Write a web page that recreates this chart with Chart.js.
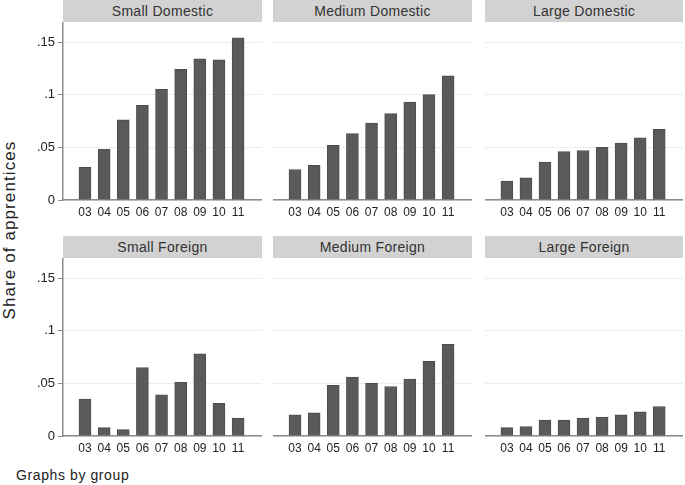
<!DOCTYPE html>
<html>
<head>
<meta charset="utf-8">
<script src="https://cdn.jsdelivr.net/npm/chart.js@4.4.1/dist/chart.umd.min.js"></script>
<style>
  html, body { margin: 0; padding: 0; background: #ffffff; }
  #wrap { position: relative; width: 685px; height: 485px; overflow: hidden; font-family: "Liberation Sans", Arial, sans-serif; }
  canvas { position: absolute; }
  .hdr { position: absolute; height: 22px; line-height: 22px; background: #d2d2d2; color: #333; text-align: center; font-size: 14px; letter-spacing: 0.3px; }
  #ytitle { position: absolute; left: 10px; top: 230px; transform: translate(-50%, -50%) rotate(-90deg); white-space: nowrap; font-size: 17px; letter-spacing: 1.1px; color: #222; }
  #note { position: absolute; left: 16px; top: 467px; font-size: 14px; letter-spacing: 0.6px; color: #222; white-space: nowrap; }
</style>
</head>
<body>
<div id="wrap">
  <div id="ytitle">Share of apprentices</div>
  <div id="note">Graphs by group</div>
</div>
<script>
// ---- data ----
const categories = ["03", "04", "05", "06", "07", "08", "09", "10", "11"];
const panelTitles = ["Small Domestic", "Medium Domestic", "Large Domestic", "Small Foreign", "Medium Foreign", "Large Foreign"];
const smallDomestic  = [0.031, 0.048, 0.076, 0.090, 0.105, 0.124, 0.134, 0.133, 0.154];
const mediumDomestic = [0.029, 0.033, 0.052, 0.063, 0.073, 0.082, 0.093, 0.100, 0.118];
const largeDomestic  = [0.018, 0.021, 0.036, 0.046, 0.047, 0.050, 0.054, 0.059, 0.067];
const smallForeign   = [0.035, 0.008, 0.006, 0.065, 0.039, 0.051, 0.078, 0.031, 0.017];
const mediumForeign  = [0.020, 0.022, 0.048, 0.056, 0.050, 0.047, 0.054, 0.071, 0.087];
const largeForeign   = [0.008, 0.009, 0.015, 0.015, 0.017, 0.018, 0.020, 0.023, 0.028];
const yTicks = [0, 0.05, 0.1, 0.15];
const yTickLabels = ["0", ".05", ".1", ".15"];

const series = [smallDomestic, mediumDomestic, largeDomestic, smallForeign, mediumForeign, largeForeign];

// ---- layout ----
const colLeft = [63, 273, 485];
const colWidth = [199, 199, 198];
const rowTop = [22, 258];
const plotH = 178;
const axisW = 45;
const xAxisH = 25;

const wrap = document.getElementById('wrap');

series.forEach((vals, k) => {
  const col = k % 3, row = Math.floor(k / 3);
  const first = col === 0;

  const hdr = document.createElement('div');
  hdr.className = 'hdr';
  hdr.style.left = colLeft[col] + 'px';
  hdr.style.width = colWidth[col] + 'px';
  hdr.style.top = (rowTop[row] - 22) + 'px';
  hdr.textContent = panelTitles[k];
  wrap.appendChild(hdr);

  const cv = document.createElement('canvas');
  const w = colWidth[col] + (first ? axisW : 0);
  const h = plotH + xAxisH;
  cv.width = w; cv.height = h;
  cv.style.width = w + 'px'; cv.style.height = h + 'px';
  cv.style.left = (colLeft[col] - (first ? axisW : 0)) + 'px';
  cv.style.top = rowTop[row] + 'px';
  wrap.appendChild(cv);

  new Chart(cv, {
    type: 'bar',
    data: {
      datasets: [{
        data: vals.map((v, i) => ({ x: i, y: v })),
        backgroundColor: '#5a5a5a',
        borderColor: '#4d4d4d',
        borderWidth: 1,
        barThickness: 12
      }]
    },
    options: {
      responsive: false,
      animation: false,
      devicePixelRatio: 1,
      layout: { padding: 0 },
      plugins: { legend: { display: false }, tooltip: { enabled: false }, title: { display: false } },
      scales: {
        x: {
          type: 'linear',
          offset: false,
          min: -1.15,
          max: 9.25,
          grid: { display: false, drawTicks: false, offset: false },
          border: { display: true, color: '#8c8c8c', width: 1.5 },
          afterBuildTicks: (s) => { s.ticks = categories.map((c, i) => ({ value: i })); },
          afterFit: (s) => { s.height = xAxisH; s.paddingLeft = 0; s.paddingRight = 0; },
          ticks: {
            autoSkip: false,
            maxRotation: 0,
            padding: 5,
            color: '#222',
            font: { family: '"Liberation Sans", Arial, sans-serif', size: 12 },
            callback: (v) => categories[v]
          }
        },
        y: {
          min: 0,
          max: 0.169,
          grid: { display: true, color: '#ececec', lineWidth: 1, drawTicks: first, tickLength: 5, tickColor: '#8c8c8c' },
          border: { display: first, color: '#8c8c8c', width: 1.5 },
          afterBuildTicks: (s) => { s.ticks = yTicks.map(v => ({ value: v })); },
          afterFit: (s) => { s.width = first ? axisW : 0; s.paddingTop = 0; s.paddingBottom = 0; },
          ticks: {
            display: first,
            padding: 3,
            color: '#222',
            font: { family: '"Liberation Sans", Arial, sans-serif', size: 13 },
            callback: (v) => { const i = yTicks.indexOf(v); return i >= 0 ? yTickLabels[i] : ''; }
          }
        }
      }
    }
  });
});
</script>
</body>
</html>
